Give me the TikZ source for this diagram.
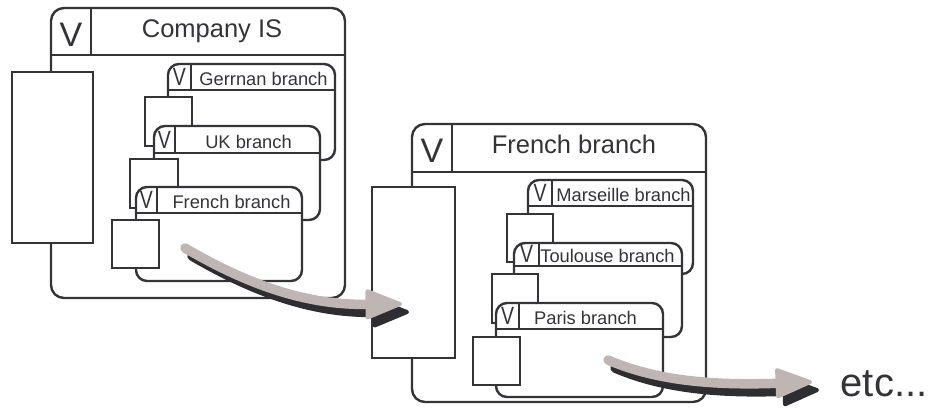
\documentclass[tikz,border=0pt]{standalone}
\usepackage{fontspec}
\setmainfont{Liberation Sans}
\usetikzlibrary{arrows.meta}
\definecolor{ink}{RGB}{52,52,56}
\definecolor{beam}{RGB}{191,182,179}
\definecolor{beamshade}{RGB}{46,45,49}

\tikzset{
  outline/.style={draw=ink, line width=2.4pt},
  bigframe/.style={outline, fill=white, rounded corners=13pt},
  branchframe/.style={outline, fill=white, rounded corners=11pt},
  stubbox/.style={outline, fill=white},
  vbig/.style={anchor=base, inner sep=0pt, text=ink, font=\fontsize{34}{34}\selectfont},
  vsmall/.style={anchor=base, inner sep=0pt, text=ink, font=\fontsize{25}{25}\selectfont},
  headbig/.style={anchor=base, inner sep=0pt, text=ink, font=\fontsize{25.5}{26}\selectfont},
  headsmall/.style={anchor=base, inner sep=0pt, text=ink, font=\fontsize{18.3}{20}\selectfont},
  flowarrow/.style={draw=beam, line width=9.5pt, line cap=round,
    -{Triangle[length=40pt,width=31pt,line width=4pt,round]}},
  flowshade/.style={flowarrow, draw=beamshade},
}
\newcommand\thinv{\scalebox{0.78}[1]{V}}

\begin{document}
\begin{tikzpicture}[x=1pt,y=-1pt]
\useasboundingbox (0,0) rectangle (931,408);

% ---------- Company IS ----------
\draw[bigframe] (51,8) rectangle (345,298);
\draw[outline] (51,55) -- (345,55);
\draw[outline] (91,8) -- (91,55);
\node[vbig] (isV) at (71,46) {V};
\node[headbig] (isTitle) at (212,37) {Company IS};
\draw[stubbox] (12,72) rectangle (93,243);

% German branch
\draw[branchframe] (168,64) rectangle (335,160);
\draw[outline] (168,90) -- (335,90);
\draw[outline] (191,64) -- (191,90);
\node[vsmall] (deV) at (179.5,85.5) {\thinv};
\node[headsmall] (deTitle) at (263.5,85) {Gerrnan branch};
\draw[stubbox] (145,97) rectangle (192,146);

% UK branch
\draw[branchframe] (154,126) rectangle (320,220);
\draw[outline] (154,153) -- (320,153);
\draw[outline] (175,126) -- (175,153);
\node[vsmall] (ukV) at (164.5,148.5) {\thinv};
\node[headsmall] (ukTitle) at (248.5,148) {UK branch};
\draw[stubbox] (130,159) rectangle (178,208);

% French branch (inner)
\draw[branchframe] (136,187) rectangle (302,281);
\draw[outline] (136,213) -- (302,213);
\draw[outline] (157,187) -- (157,213);
\node[vsmall] (frV) at (146.5,208.5) {\thinv};
\node[headsmall] (frTitle) at (231.5,208) {French branch};
\draw[stubbox] (112,220) rectangle (159,268);

% ---------- French branch ----------
\draw[bigframe] (412,124) rectangle (706,402);
\draw[outline] (412,172) -- (706,172);
\draw[outline] (452,124) -- (452,172);
\node[vbig] (fbV) at (432,162) {V};
\node[headbig] (fbTitle) at (574,153) {French branch};
\draw[stubbox] (372,187) rectangle (455,358);

% Marseille branch
\draw[branchframe] (528,180) rectangle (693,274);
\draw[outline] (528,206) -- (693,206);
\draw[outline] (552,180) -- (552,206);
\node[vsmall] (maV) at (540,201.5) {\thinv};
\node[headsmall] (maTitle) at (623.5,201) {Marseille branch};
\draw[stubbox] (507,214) rectangle (553,262);

% Toulouse branch
\draw[branchframe] (514,243) rectangle (682,337);
\draw[outline] (514,266) -- (682,266);
\draw[outline] (539,243) -- (539,266);
\node[vsmall] (toV) at (526.5,262.5) {\thinv};
\node[headsmall] (toTitle) at (607.5,262) {Toulouse branch};
\draw[stubbox] (492,274) rectangle (538,323);

% Paris branch
\draw[branchframe] (496,303) rectangle (663,397);
\draw[outline] (496,329) -- (663,329);
\draw[outline] (519,303) -- (519,329);
\node[vsmall] (paV) at (507.5,324.5) {\thinv};
\node[headsmall] (paTitle) at (585.5,324) {Paris branch};
\draw[stubbox] (473,337) rectangle (520,385);

% ---------- drill-down arrows ----------
\coordinate (a1s) at (185,248);
\coordinate (a1e) at (402,304);
\coordinate (a2s) at (608,360);
\coordinate (a2e) at (812,382);

\draw[flowshade, transform canvas={shift={(7pt,-8pt)}}]
  (a1s) .. controls +(70,41) and +(-90,1) .. (a1e);
\draw[flowarrow] (a1s) .. controls +(70,41) and +(-90,1) .. (a1e);

\draw[flowshade, transform canvas={shift={(7pt,-8pt)}}]
  (a2s) .. controls +(42,18) and +(-110,4) .. (a2e);
\draw[flowarrow] (a2s) .. controls +(42,18) and +(-110,4) .. (a2e);

\node[anchor=base, inner sep=0pt, text=ink, font=\fontsize{40}{40}\selectfont]
  (etc) at (884,396) {etc...};
\end{tikzpicture}
\end{document}
